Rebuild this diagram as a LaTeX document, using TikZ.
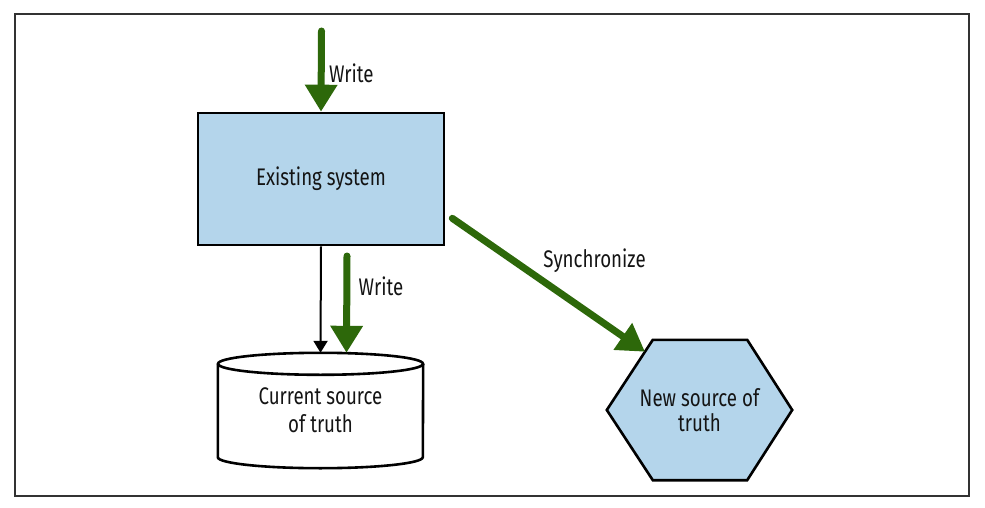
\documentclass[tikz,border=0pt]{standalone}
\usepackage{fontspec}
\setmainfont{Fira Sans}[FakeStretch=0.78]
\usetikzlibrary{arrows.meta, positioning, calc, backgrounds}
\definecolor{sysBlue}{RGB}{180,213,235}
\definecolor{arrowGreen}{RGB}{45,104,10}
\definecolor{inkBlack}{RGB}{20,20,20}
\definecolor{frameGray}{RGB}{50,50,50}
\tikzstyle{fSystem} = [rectangle, minimum width=246pt, minimum height=132pt, text centered, draw=black, line width=2.6pt, fill=sysBlue, text=inkBlack]
\tikzstyle{fStore} = [rectangle, minimum width=205pt, minimum height=115pt, align=center, text=inkBlack]
\tikzstyle{fTarget} = [rectangle, minimum width=185pt, minimum height=140pt, align=center, text=inkBlack]
\tikzstyle{fOutline} = [draw=black, line width=2.6pt, line join=miter]
\tikzstyle{fWriteArrow} = [line width=7pt, draw=arrowGreen, line cap=round, -{Triangle[width=31pt,length=27pt]}]
\tikzstyle{fPlainArrow} = [line width=2pt, -{Triangle[width=14pt,length=12pt]}]
\tikzstyle{fLabel} = [text=inkBlack]

\begin{document}
\begin{tikzpicture}[x=1pt, y=-1pt, font=\fontsize{24}{28}\selectfont]
    \useasboundingbox (0,0) rectangle (985,508);
    \draw [draw=frameGray, line width=1.5pt] (15,14) rectangle (969,496);

    \node (exist) [fSystem] at (321,179) {Existing system};
    \node (cur) [fStore] at (320.5,410.5) {Current source\\of truth};
    \node (newsrc) [fTarget, font=\fontsize{24}{24.5}\selectfont] at (699.5,410) {New source of\\truth};

    \begin{scope}[on background layer]
        % cylinder
        \draw [fOutline] ([yshift=-11pt]cur.north) ellipse [x radius=102.5pt, y radius=11pt];
        \draw [fOutline] ([yshift=-11pt]cur.north west) -- ([yshift=11pt]cur.south west)
            arc [start angle=180, end angle=360, x radius=102.5pt, y radius=11pt]
            -- ([yshift=-11pt]cur.north east);
        % hexagon
        \draw [fOutline, fill=sysBlue] (newsrc.west) -- ([xshift=46pt]newsrc.north west)
            -- ([xshift=-45pt]newsrc.north east) -- (newsrc.east)
            -- ([xshift=-45pt]newsrc.south east) -- ([xshift=46pt]newsrc.south west) -- cycle;
    \end{scope}

    \coordinate (writeIn) at (321.5,31);
    \coordinate (writeOut) at (347,256);
    \coordinate (syncOut) at ([shift={(7,-28)}]exist.south east);
    \coordinate (syncTip) at ($(newsrc.west)!0.83!([xshift=46pt]newsrc.north west)$);

    \draw [fWriteArrow] (writeIn) -- node[fLabel, pos=0.52, anchor=west, xshift=1pt] {Write} (exist.north);
    \draw [fPlainArrow] (exist.south) -- (cur.north);
    \draw [fWriteArrow] (writeOut) -- node[fLabel, pos=0.31, anchor=west, xshift=5pt] {Write} ([xshift=26pt]cur.north);
    \draw [fWriteArrow] (syncOut) -- node[fLabel, pos=0.5, anchor=south west, xshift=-12pt, yshift=6pt] {Synchronize} (syncTip);
\end{tikzpicture}
\end{document}
